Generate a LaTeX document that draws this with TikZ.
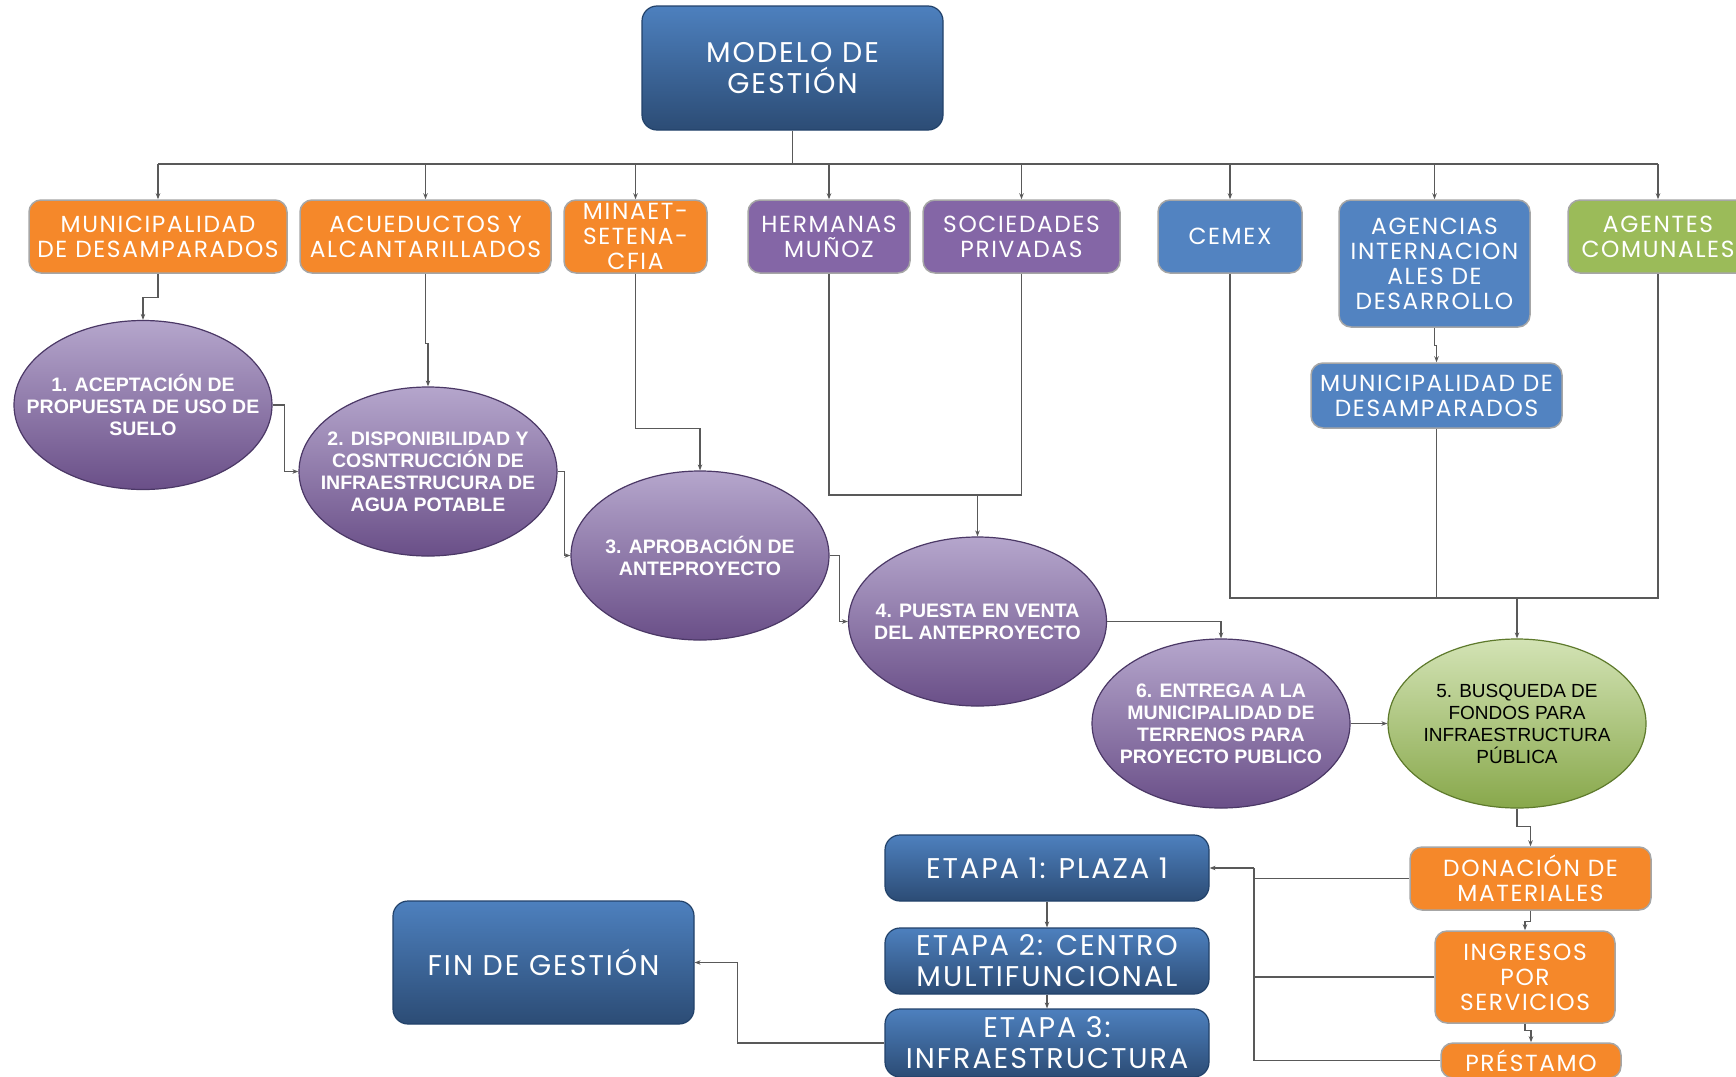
\documentclass[tikz,border=0pt]{standalone}
\usepackage{fontspec}
\setmainfont{Liberation Sans}
\newfontfamily\gothic{Poppins}[LetterSpace=7]
\usetikzlibrary{shapes.geometric,arrows.meta}
\definecolor{orng}{HTML}{F5882A}
\definecolor{purp}{HTML}{8466A6}
\definecolor{blu}{HTML}{5283C1}
\definecolor{grn}{HTML}{9BBB59}
\definecolor{boxline}{HTML}{A6A6A6}
\definecolor{dbtop}{HTML}{4D80BE}
\definecolor{dbbot}{HTML}{2C4C75}
\definecolor{dbline}{HTML}{22426A}
\definecolor{eptop}{HTML}{B5A6CC}
\definecolor{epbot}{HTML}{6A4F88}
\definecolor{epline}{HTML}{4B3866}
\definecolor{egtop}{HTML}{D3E3B5}
\definecolor{egbot}{HTML}{88A84B}
\definecolor{egline}{HTML}{5E7A2C}
\definecolor{linegray}{HTML}{595959}
\begin{document}
\begin{tikzpicture}[x=1pt,y=-1pt,
  conn/.style={draw=linegray, line width=1.2pt},
  arr/.style={conn, -{Stealth[length=6pt,width=4.5pt]}},
  topbox/.style={rectangle, rounded corners=12pt, draw=boxline, line width=1.5pt,
     text=white, align=center, inner sep=0pt,
     font=\gothic\fontsize{23.3}{25}\selectfont},
  gbox/.style={rectangle, rounded corners=15pt, top color=dbtop, bottom color=dbbot,
     draw=dbline, line width=1.2pt, text=white, align=center, inner sep=0pt,
     font=\gothic\fontsize{28.5}{31}\selectfont},
  pell/.style={ellipse, top color=eptop, bottom color=epbot, draw=epline, line width=1.2pt,
     minimum width=258, minimum height=169, inner sep=0pt},
  ptext/.style={align=center, text=white, inner sep=0pt,
     font=\bfseries\fontsize{19.5}{22}\selectfont},
  gell/.style={ellipse, top color=egtop, bottom color=egbot, draw=egline, line width=1.2pt,
     minimum width=258, minimum height=169, inner sep=0pt},
  gtext/.style={align=center, text=black, inner sep=0pt,
     font=\fontsize{19}{22}\selectfont}
]
\fill[white] (0,0) rectangle (1736,1076);
\useasboundingbox (0,0) rectangle (1736,1076);

% top node
\node[gbox, minimum width=301, minimum height=124] (modelo) at (792.5,68) {MODELO DE\\GESTIÓN};

% first row
\node[topbox, fill=orng, minimum width=258, minimum height=73] (muni1) at (158,236.5) {MUNICIPALIDAD\\DE DESAMPARADOS};
\node[topbox, fill=orng, minimum width=251, minimum height=73] (acued) at (425.5,236.5) {ACUEDUCTOS Y\\ALCANTARILLADOS};
\node[topbox, fill=orng, minimum width=143, minimum height=73] (minaet) at (635.5,236.5) {MINAET-\\SETENA-\\CFIA};
\node[topbox, fill=purp, minimum width=162, minimum height=73] (herm) at (829,236.5) {HERMANAS\\MUÑOZ};
\node[topbox, fill=purp, minimum width=197, minimum height=73] (soc) at (1021.5,236.5) {SOCIEDADES\\PRIVADAS};
\node[topbox, fill=blu, minimum width=144, minimum height=73] (cemex) at (1230,236.5) {CEMEX};
\node[topbox, fill=blu, minimum width=191, minimum height=127] (agen) at (1434.5,263.5) {AGENCIAS\\INTERNACION\\ALES DE\\DESARROLLO};
\node[topbox, fill=grn, minimum width=180, minimum height=73] (agent) at (1658,236.5) {AGENTES\\COMUNALES};
\node[topbox, fill=blu, minimum width=251, minimum height=65] (muni2) at (1436.5,395.5) {MUNICIPALIDAD DE\\DESAMPARADOS};

% ellipses
\node[pell, label={[ptext]center:{1. ACEPTACIÓN DE\\PROPUESTA DE USO DE\\SUELO}}] (e1) at (143,405) {};
\node[pell, label={[ptext]center:{2. DISPONIBILIDAD Y\\COSNTRUCCIÓN DE\\INFRAESTRUCURA DE\\AGUA POTABLE}}] (e2) at (428,471.5) {};
\node[pell, label={[ptext]center:{3. APROBACIÓN DE\\ANTEPROYECTO}}] (e3) at (700,555.5) {};
\node[pell, label={[ptext]center:{4. PUESTA EN VENTA\\DEL ANTEPROYECTO}}] (e4) at (977.5,621.5) {};
\node[pell, label={[ptext]center:{6. ENTREGA A LA\\MUNICIPALIDAD DE\\TERRENOS PARA\\PROYECTO PUBLICO}}] (e6) at (1221,723.5) {};
\node[gell, label={[gtext]center:{5. BUSQUEDA DE\\FONDOS PARA\\INFRAESTRUCTURA\\PÚBLICA}}] (e5) at (1517,723.5) {};

% funding boxes
\node[topbox, fill=orng, minimum width=241, minimum height=63] (don) at (1530.5,878.5) {DONACIÓN DE\\MATERIALES};
\node[topbox, fill=orng, minimum width=180, minimum height=92] (ing) at (1525,977) {INGRESOS\\POR\\SERVICIOS};
\node[topbox, fill=orng, minimum width=180, minimum height=35] (pres) at (1531,1060.5) {PRÉSTAMO};

% stages
\node[gbox, minimum width=324, minimum height=66] (et1) at (1047,868) {ETAPA 1: PLAZA 1};
\node[gbox, minimum width=324, minimum height=66] (et2) at (1047,961) {ETAPA 2: CENTRO\\MULTIFUNCIONAL};
\node[gbox, minimum width=324, minimum height=68] (et3) at (1047,1043) {ETAPA 3:\\INFRAESTRUCTURA};
\node[gbox, minimum width=301, minimum height=123] (fin) at (543.5,962.5) {FIN DE GESTIÓN};

% bus from modelo
\coordinate (bus) at (792.5,164);
\draw[conn] (modelo.south) -- (bus);
\draw[conn] (bus -| muni1.north) -- (bus -| agent.north);
\foreach \n in {muni1,acued,minaet,herm,soc,cemex,agen,agent}
  \draw[arr] (bus -| \n.north) -- (\n.north);
\draw[arr] (agen.south) -- ++(0,18) -| (muni2.north);

% to ellipses
\draw[arr] (muni1.south) -- ++(0,24) -| (e1.north);
\draw[arr] (acued.south) -- ++(0,70) -| (e2.north);
\draw[arr] (minaet.south) -- ++(0,155) -| (e3.north);
\coordinate (j4) at (977.5,495);
\draw[conn] (herm.south) |- (j4) -| (soc.south);
\draw[arr] (j4) -- (e4.north);
\coordinate (j5) at (1517,598);
\draw[conn] (cemex.south) |- (j5) -| (agent.south);
\draw[conn] (muni2.south) -- (muni2.south |- j5);
\draw[arr] (j5) -- (e5.north);

% ellipse chain
\draw[arr] (e1.east) -- ++(12,0) |- (e2.west);
\draw[arr] (e2.east) -- ++(7,0) |- (e3.west);
\draw[arr] (e3.east) -- ++(10,0) |- (e4.west);
\draw[arr] (e4.east) -| (e6.north);
\draw[arr] (e6.east) -- (e5.west);

% funding chain
\draw[arr] (e5.south) -- ++(0,18) -| (don.north);
\draw[arr] (don.south) -- ++(0,11) -| (ing.north);
\draw[arr] (ing.south) -- ++(0,7) -| (pres.north);
\coordinate (jb) at (1254,868);
\draw[conn] (pres.west) -| (jb);
\draw[conn] (don.west) -- (don.west -| jb);
\draw[conn] (ing.west) -- (ing.west -| jb);
\draw[arr] (jb) -- (et1.east);

% stages
\draw[arr] (et1.south) -- (et2.north);
\draw[arr] (et2.south) -- (et3.north);
\draw[arr] (et3.west) -- ++(-147,0) |- (fin.east);
\end{tikzpicture}
\end{document}
